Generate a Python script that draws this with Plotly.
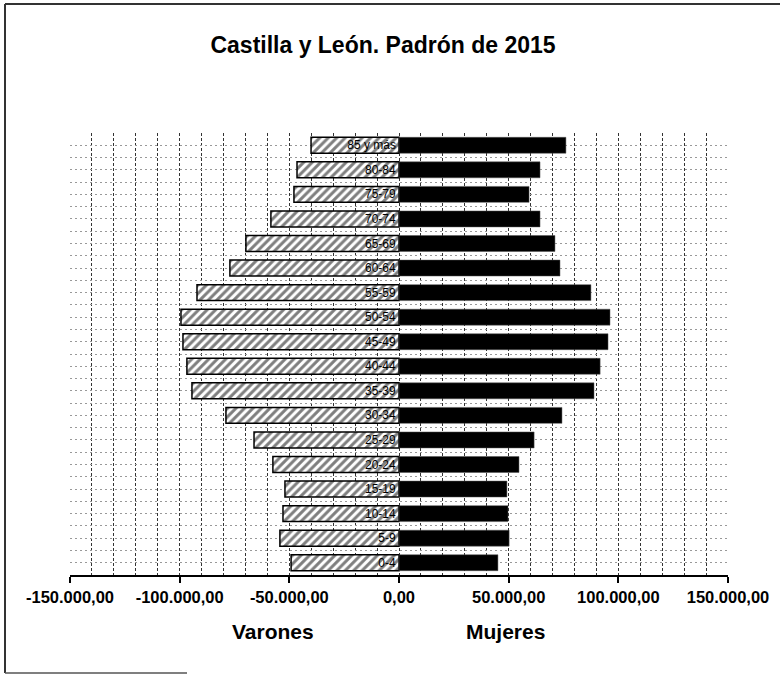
import plotly.graph_objects as go

# ---- data ----
age_groups = ["0-4", "5-9", "10-14", "15-19", "20-24", "25-29", "30-34", "35-39",
              "40-44", "45-49", "50-54", "55-59", "60-64", "65-69", "70-74",
              "75-79", "80-84", "85 y más"]
varones = [-49200, -54300, -52900, -52000, -57500, -66100, -78900, -94400,
           -96700, -98500, -99400, -92100, -77100, -69800, -58400,
           -47900, -46500, -40100]
mujeres = [45100, 50200, 49700, 49200, 54700, 61600, 74300, 88900,
           91700, 95300, 96200, 87500, 73400, 71100, 64300,
           59300, 64300, 76100]
x_ticks = [-150000, -100000, -50000, 0, 50000, 100000, 150000]
title_text = "Castilla y León. Padrón de 2015"


def es_fmt(v):
    s = f"{abs(v):,.2f}".replace(",", "X").replace(".", ",").replace("X", ".")
    return ("-" if v < 0 else "") + s


W, H = 782, 675
L, R, T, B = 70, 54, 133, 100
pw, ph = W - L - R, H - T - B


def px_x(p):
    return (p - L) / pw


def px_y(p):
    return (H - B - p) / ph


FONT = "Arial, Liberation Sans"

fig = go.Figure()
fig.add_trace(go.Bar(
    y=age_groups, x=varones, orientation="h", name="Varones",
    marker=dict(color="white",
                line=dict(color="black", width=1.5),
                pattern=dict(shape="/", fgcolor="black", bgcolor="white",
                             size=6, solidity=0.5)),
    text=age_groups, textposition="inside", insidetextanchor="start",
    textangle=0, constraintext="none",
    textfont=dict(family=FONT, size=12, color="black"),
    hoverinfo="x+y",
))
fig.add_trace(go.Bar(
    y=age_groups, x=mujeres, orientation="h", name="Mujeres",
    marker=dict(color="black", line=dict(color="#555555", width=0.5)),
    hoverinfo="x+y",
))
# invisible trace for the boundary gridlines axis
fig.add_trace(go.Scatter(x=[0], y=[0], yaxis="y2", mode="markers",
                         marker=dict(opacity=0), showlegend=False,
                         hoverinfo="skip"))

xgrid = dict(gridcolor="#333333", griddash="3px,2px", gridwidth=1)
ygrid = dict(gridcolor="#999999", griddash="2px,3px", gridwidth=1)

fig.update_layout(
    width=W, height=H,
    margin=dict(l=L, r=R, t=T, b=B),
    paper_bgcolor="white", plot_bgcolor="white",
    barmode="overlay", bargap=0.35,
    showlegend=False,
    font=dict(family=FONT, color="black"),
    title=dict(text=f"<b>{title_text}</b>", x=383 / W, xref="container",
               xanchor="center", y=1 - 45 / H, yref="container",
               yanchor="middle",
               font=dict(family=FONT, size=23, color="black")),
    xaxis=dict(range=[-150000, 150000], tickvals=x_ticks,
               ticktext=[f"<b>{es_fmt(v)}</b>" for v in x_ticks],
               tickfont=dict(family=FONT, size=16.5, color="black"),
               showline=True, linecolor="black", linewidth=2,
               ticks="outside", ticklen=6, tickwidth=2, tickcolor="black",
               zeroline=False, showgrid=True,
               minor=dict(dtick=10000, tick0=0, showgrid=True, **xgrid),
               **xgrid),
    yaxis=dict(showticklabels=False, showline=False, zeroline=False,
               showgrid=True, ticks="", range=[-0.5, 17.5], **ygrid),
    yaxis2=dict(overlaying="y", range=[-0.5, 17.5], tick0=-0.5, dtick=1,
                showticklabels=False, showgrid=True, zeroline=False,
                showline=False, ticks="", **ygrid),
    annotations=[
        dict(text="<b>Varones</b>", x=px_x(273), y=px_y(631), xref="paper",
             yref="paper", xanchor="center", yanchor="middle", showarrow=False,
             font=dict(family=FONT, size=21, color="black")),
        dict(text="<b>Mujeres</b>", x=px_x(505), y=px_y(631), xref="paper",
             yref="paper", xanchor="center", yanchor="middle", showarrow=False,
             font=dict(family=FONT, size=21, color="black")),
    ],
    shapes=[
        dict(type="line", xref="paper", yref="paper", x0=px_x(5), x1=px_x(780),
             y0=px_y(4), y1=px_y(4), line=dict(color="#333333", width=2)),
        dict(type="line", xref="paper", yref="paper", x0=px_x(5), x1=px_x(5),
             y0=px_y(4), y1=px_y(673), line=dict(color="#333333", width=2)),
        dict(type="line", xref="paper", yref="paper", x0=px_x(5), x1=px_x(187),
             y0=px_y(673), y1=px_y(673), line=dict(color="#555555", width=1.5)),
    ],
)

fig.write_html("out.html", config={"displayModeBar": False},
               post_script="document.body.style.margin='0';")
